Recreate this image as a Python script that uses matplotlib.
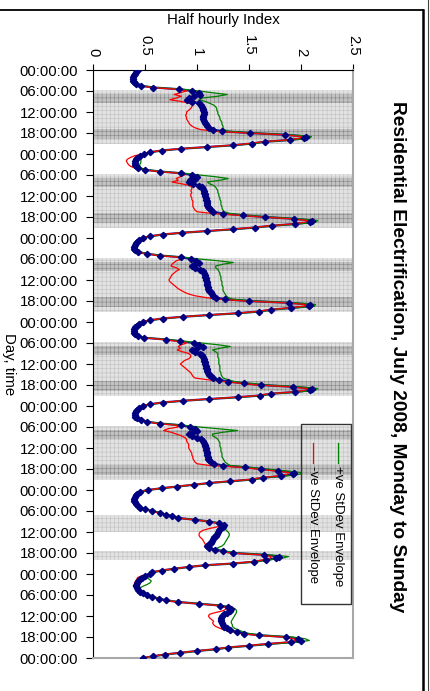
import matplotlib.pyplot as plt
from matplotlib.lines import Line2D
from matplotlib.patches import Rectangle

plt.rcParams['font.family'] = ['Liberation Sans', 'DejaVu Sans']
plt.rcParams['hatch.linewidth'] = 0.4

# half-hourly index, Monday 00:00 to Sunday 23:30 (48 values a day) + Sunday 24:00
mean = [
    # Mon
    0.43, 0.41, 0.40, 0.39, 0.38, 0.38, 0.38, 0.39, 0.41, 0.46, 0.58, 0.83,
    0.95, 1.02, 1.03, 0.97, 0.92, 0.90, 0.95, 1.02, 1.04, 1.05, 1.06, 1.06,
    1.07, 1.07, 1.06, 1.06, 1.06, 1.07, 1.08, 1.09, 1.10, 1.12, 1.15, 1.24,
    1.51, 1.85, 2.05, 2.03, 1.89, 1.65, 1.53, 1.35, 1.10, 0.85, 0.66, 0.55,
    # Tue
    0.49, 0.45, 0.42, 0.41, 0.40, 0.40, 0.40, 0.41, 0.43, 0.50, 0.64, 0.85,
    0.95, 1.00, 0.98, 0.93, 0.92, 0.96, 1.02, 1.05, 1.06, 1.07, 1.07, 1.08,
    1.08, 1.09, 1.09, 1.10, 1.10, 1.10, 1.11, 1.12, 1.13, 1.15, 1.25, 1.44,
    1.65, 1.93, 2.11, 2.09, 1.94, 1.72, 1.56, 1.35, 1.10, 0.86, 0.67, 0.55,
    # Wed
    0.48, 0.44, 0.42, 0.41, 0.40, 0.39, 0.39, 0.40, 0.43, 0.52, 0.64, 0.85,
    0.94, 0.99, 1.02, 0.98, 0.95, 0.98, 1.03, 1.06, 1.07, 1.08, 1.08, 1.09,
    1.09, 1.10, 1.10, 1.10, 1.11, 1.11, 1.12, 1.13, 1.14, 1.15, 1.18, 1.27,
    1.50, 1.88, 2.09, 2.08, 1.90, 1.71, 1.60, 1.39, 1.12, 0.87, 0.67, 0.55,
    # Thu
    0.48, 0.44, 0.42, 0.40, 0.39, 0.39, 0.39, 0.40, 0.43, 0.49, 0.70, 0.84,
    0.97, 1.02, 1.06, 1.00, 0.95, 0.98, 1.03, 1.05, 1.06, 1.07, 1.07, 1.08,
    1.08, 1.09, 1.09, 1.10, 1.10, 1.11, 1.12, 1.13, 1.15, 1.21, 1.30, 1.45,
    1.62, 1.92, 2.11, 2.09, 1.94, 1.71, 1.61, 1.39, 1.12, 0.87, 0.67, 0.55,
    # Fri
    0.48, 0.44, 0.42, 0.41, 0.40, 0.40, 0.40, 0.42, 0.46, 0.52, 0.64, 0.85,
    0.93, 0.98, 1.00, 0.96, 0.92, 0.95, 1.00, 1.04, 1.06, 1.07, 1.08, 1.08,
    1.09, 1.09, 1.10, 1.10, 1.10, 1.11, 1.11, 1.12, 1.13, 1.16, 1.25, 1.46,
    1.62, 1.78, 1.93, 1.92, 1.81, 1.63, 1.53, 1.32, 1.12, 0.97, 0.81, 0.66,
    # Sat
    0.53, 0.45, 0.42, 0.41, 0.40, 0.39, 0.39, 0.40, 0.41, 0.43, 0.45, 0.50,
    0.57, 0.64, 0.70, 0.76, 0.82, 0.98, 1.12, 1.21, 1.26, 1.25, 1.22, 1.21,
    1.20, 1.19, 1.18, 1.16, 1.15, 1.14, 1.13, 1.12, 1.10, 1.12, 1.17, 1.25,
    1.35, 1.64, 1.79, 1.76, 1.66, 1.55, 1.35, 1.08, 0.92, 0.78, 0.66, 0.57,
    # Sun
    0.55, 0.50, 0.47, 0.45, 0.43, 0.42, 0.41, 0.41, 0.42, 0.43, 0.45, 0.48,
    0.52, 0.57, 0.63, 0.70, 0.82, 1.02, 1.22, 1.30, 1.33, 1.32, 1.29, 1.26,
    1.24, 1.23, 1.23, 1.23, 1.24, 1.25, 1.26, 1.29, 1.32, 1.38, 1.45, 1.60,
    1.86, 1.97, 2.00, 1.90, 1.68, 1.50, 1.30, 1.18, 1.00, 0.84, 0.69, 0.58,
    0.48,
]

upper = [
    # Mon
    0.44, 0.42, 0.41, 0.40, 0.39, 0.39, 0.39, 0.40, 0.42, 0.47, 0.60, 0.87,
    1.02, 1.15, 1.29, 1.20, 1.05, 1.02, 1.08, 1.12, 1.16, 1.18, 1.19, 1.19,
    1.20, 1.20, 1.21, 1.22, 1.22, 1.23, 1.24, 1.24, 1.25, 1.25, 1.26, 1.30,
    1.55, 1.88, 2.10, 2.08, 1.91, 1.67, 1.55, 1.37, 1.11, 0.86, 0.67, 0.56,
    # Tue
    0.50, 0.48, 0.46, 0.46, 0.46, 0.46, 0.45, 0.45, 0.46, 0.52, 0.66, 0.88,
    1.02, 1.18, 1.30, 1.22, 1.10, 1.12, 1.16, 1.18, 1.19, 1.20, 1.20, 1.21,
    1.21, 1.22, 1.22, 1.23, 1.23, 1.23, 1.24, 1.24, 1.25, 1.26, 1.32, 1.48,
    1.68, 1.97, 2.16, 2.14, 1.97, 1.74, 1.58, 1.37, 1.11, 0.87, 0.68, 0.56,
    # Wed
    0.49, 0.45, 0.43, 0.42, 0.41, 0.40, 0.40, 0.41, 0.44, 0.53, 0.66, 0.88,
    1.02, 1.20, 1.35, 1.25, 1.18, 1.18, 1.20, 1.21, 1.22, 1.22, 1.23, 1.23,
    1.23, 1.24, 1.24, 1.24, 1.25, 1.25, 1.25, 1.26, 1.27, 1.28, 1.30, 1.34,
    1.55, 1.93, 2.14, 2.13, 1.93, 1.73, 1.62, 1.41, 1.13, 0.88, 0.68, 0.56,
    # Thu
    0.49, 0.45, 0.43, 0.41, 0.40, 0.40, 0.40, 0.41, 0.44, 0.50, 0.72, 0.88,
    1.05, 1.20, 1.32, 1.22, 1.15, 1.18, 1.20, 1.20, 1.20, 1.21, 1.21, 1.21,
    1.21, 1.22, 1.22, 1.22, 1.22, 1.23, 1.23, 1.24, 1.25, 1.30, 1.36, 1.50,
    1.67, 1.97, 2.16, 2.14, 1.97, 1.73, 1.63, 1.41, 1.13, 0.88, 0.68, 0.56,
    # Fri
    0.49, 0.45, 0.43, 0.42, 0.41, 0.41, 0.41, 0.43, 0.47, 0.53, 0.66, 0.88,
    1.02, 1.20, 1.39, 1.25, 1.15, 1.15, 1.18, 1.20, 1.21, 1.22, 1.22, 1.22,
    1.23, 1.23, 1.23, 1.24, 1.24, 1.24, 1.25, 1.26, 1.27, 1.29, 1.32, 1.50,
    1.66, 1.84, 2.00, 1.99, 1.85, 1.66, 1.55, 1.34, 1.13, 0.98, 0.82, 0.67,
    # Sat
    0.54, 0.46, 0.43, 0.42, 0.41, 0.40, 0.40, 0.41, 0.42, 0.44, 0.46, 0.51,
    0.58, 0.65, 0.71, 0.77, 0.83, 0.99, 1.13, 1.22, 1.28, 1.28, 1.27, 1.28,
    1.30, 1.31, 1.31, 1.30, 1.29, 1.28, 1.27, 1.26, 1.24, 1.20, 1.20, 1.28,
    1.38, 1.68, 1.88, 1.82, 1.69, 1.57, 1.37, 1.09, 0.93, 0.79, 0.67, 0.58,
    # Sun
    0.56, 0.53, 0.52, 0.54, 0.56, 0.55, 0.52, 0.48, 0.45, 0.44, 0.46, 0.49,
    0.53, 0.58, 0.64, 0.71, 0.83, 1.03, 1.24, 1.33, 1.37, 1.38, 1.38, 1.37,
    1.36, 1.35, 1.34, 1.33, 1.33, 1.34, 1.34, 1.36, 1.40, 1.44, 1.50, 1.64,
    1.92, 2.04, 2.08, 1.96, 1.71, 1.52, 1.32, 1.19, 1.01, 0.85, 0.70, 0.59,
    0.48,
]

lower = [
    # Mon
    0.42, 0.40, 0.39, 0.38, 0.37, 0.37, 0.37, 0.38, 0.40, 0.45, 0.56, 0.80,
    0.90, 0.84, 0.78, 0.85, 0.80, 0.74, 0.85, 0.93, 0.96, 0.95, 0.94, 0.92,
    0.90, 0.90, 0.89, 0.90, 0.90, 0.91, 0.92, 0.93, 0.95, 0.98, 1.03, 1.17,
    1.48, 1.82, 2.00, 1.99, 1.86, 1.63, 1.51, 1.33, 1.09, 0.84, 0.65, 0.54,
    # Tue
    0.48, 0.40, 0.36, 0.33, 0.32, 0.33, 0.34, 0.36, 0.40, 0.48, 0.62, 0.82,
    0.88, 0.84, 0.80, 0.82, 0.76, 0.85, 0.93, 0.95, 0.95, 0.94, 0.95, 0.94,
    0.94, 0.95, 0.95, 0.96, 0.96, 0.96, 0.96, 0.97, 0.98, 1.00, 1.15, 1.40,
    1.62, 1.90, 2.06, 2.04, 1.91, 1.70, 1.54, 1.33, 1.09, 0.85, 0.66, 0.54,
    # Wed
    0.47, 0.43, 0.41, 0.40, 0.39, 0.38, 0.38, 0.39, 0.42, 0.51, 0.62, 0.82,
    0.86, 0.80, 0.78, 0.76, 0.75, 0.80, 0.83, 0.80, 0.78, 0.76, 0.75, 0.74,
    0.73, 0.74, 0.76, 0.78, 0.80, 0.82, 0.85, 0.88, 0.92, 0.98, 1.08, 1.22,
    1.46, 1.84, 2.04, 2.03, 1.87, 1.69, 1.58, 1.37, 1.11, 0.86, 0.66, 0.54,
    # Thu
    0.47, 0.43, 0.41, 0.39, 0.38, 0.38, 0.38, 0.39, 0.42, 0.48, 0.68, 0.80,
    0.90, 0.85, 0.82, 0.84, 0.81, 0.86, 0.92, 0.94, 0.94, 0.92, 0.88, 0.86,
    0.84, 0.86, 0.88, 0.90, 0.92, 0.94, 0.95, 0.96, 0.98, 1.10, 1.25, 1.42,
    1.58, 1.88, 2.06, 2.04, 1.91, 1.69, 1.59, 1.37, 1.11, 0.86, 0.66, 0.54,
    # Fri
    0.47, 0.43, 0.41, 0.40, 0.39, 0.39, 0.39, 0.41, 0.45, 0.51, 0.62, 0.80,
    0.82, 0.72, 0.68, 0.75, 0.80, 0.85, 0.88, 0.90, 0.90, 0.91, 0.92, 0.92,
    0.92, 0.93, 0.94, 0.95, 0.95, 0.96, 0.96, 0.97, 0.98, 1.00, 1.12, 1.42,
    1.58, 1.74, 1.88, 1.87, 1.78, 1.61, 1.51, 1.30, 1.11, 0.96, 0.80, 0.65,
    # Sat
    0.52, 0.44, 0.41, 0.40, 0.39, 0.38, 0.38, 0.39, 0.40, 0.42, 0.44, 0.49,
    0.56, 0.63, 0.69, 0.75, 0.81, 0.97, 1.11, 1.19, 1.22, 1.20, 1.12, 1.06,
    1.03, 1.02, 1.02, 1.03, 1.05, 1.06, 1.07, 1.08, 1.08, 1.08, 1.13, 1.22,
    1.32, 1.60, 1.72, 1.70, 1.63, 1.53, 1.33, 1.07, 0.91, 0.77, 0.65, 0.56,
    # Sun
    0.54, 0.47, 0.43, 0.42, 0.41, 0.40, 0.40, 0.40, 0.41, 0.42, 0.44, 0.47,
    0.51, 0.56, 0.62, 0.69, 0.81, 1.00, 1.20, 1.27, 1.28, 1.25, 1.18, 1.12,
    1.11, 1.12, 1.14, 1.16, 1.15, 1.16, 1.18, 1.22, 1.26, 1.33, 1.42, 1.57,
    1.82, 1.93, 1.96, 1.86, 1.66, 1.48, 1.28, 1.16, 0.98, 0.83, 0.68, 0.57,
    0.48,
]

# shaded tariff periods, (start hour, end hour) from Monday 00:00
shoulder_bands = [(d * 24 + 5.75, d * 24 + 21.25) for d in range(5)] + [(127.0, 132.0), (137.5, 140.0)]
peak_bands = [(d * 24 + a, d * 24 + b) for d in range(5) for a, b in [(6.75, 9.5), (16.75, 19.75)]]

hour_ticks = list(range(0, 169, 6))
hour_labels = ['%02d:00:00' % (h % 24) for h in hour_ticks]
index_ticks = [0, 0.5, 1, 1.5, 2, 2.5]
index_labels = ['0', '0.5', '1', '1.5', '2', '2.5']

hours = [i * 0.5 for i in range(len(mean))]

fig = plt.figure(figsize=(4.30, 6.91), dpi=100)
ax = fig.add_axes([93 / 430, 1 - 658 / 691, 260 / 430, 588 / 691])

for a, b in shoulder_bands:
    ax.axhspan(a, b, facecolor='#e2e2e2', edgecolor='#c0c0c0', hatch='++++', lw=0, zorder=0)
for a, b in peak_bands:
    ax.axhspan(a, b, facecolor='#c2c2c2', edgecolor='#858585', hatch='++++', lw=0, zorder=0)

ax.plot(mean, hours, color='#1a1a8c', lw=1.6, zorder=2)
ax.plot(upper, hours, color='#008000', lw=0.9, zorder=3)
ax.plot(lower, hours, color='#ff0000', lw=0.9, zorder=4)
ax.plot(mean, hours, ls='none', marker='D', ms=3.2, color='#000080', zorder=5)

ax.set_xlim(0, 2.5)
ax.set_ylim(168, 0)
ax.xaxis.tick_top()
ax.set_xticks(index_ticks)
ax.set_xticklabels(index_labels, rotation=-90, fontsize=10.7)
ax.set_yticks(hour_ticks)
ax.set_yticklabels(hour_labels, fontsize=10.7)
ax.tick_params(axis='x', direction='out', length=4, pad=6)
ax.tick_params(axis='y', direction='out', length=5, pad=6)
ax.spines['left'].set_color('black')
ax.spines['top'].set_color('black')
for s in ['right', 'bottom']:
    ax.spines[s].set_color('#a8a8a8')
    ax.spines[s].set_linewidth(1.5)

fig.text(223 / 430, 1 - 20 / 691, 'Half hourly Index', ha='center', va='center', fontsize=10.8)
fig.text(9 / 430, 1 - 364 / 691, 'Day, time', ha='center', va='center', rotation=-90, fontsize=10.8)
fig.text(397 / 430, 1 - 357 / 691, 'Residential Electrification, July 2008, Monday to Sunday',
         ha='center', va='center', rotation=-90, fontsize=13.8, fontweight='bold')

# legend, drawn turned like the rest of the chart
ax.add_patch(Rectangle((2.0, 101.0), 0.48, 51.5, facecolor='none', edgecolor='#333333', lw=1.0, zorder=6))
ax.plot([2.355, 2.355], [106.5, 112.3], color='#008000', lw=0.9, zorder=6)
ax.plot([2.114, 2.114], [106.5, 112.3], color='#ff0000', lw=0.9, zorder=6)
ax.text(2.355, 113.0, '+ve StDev Envelope', rotation=-90, ha='center', va='top', fontsize=9.5, zorder=6)
ax.text(2.114, 113.0, '-ve StDev Envelope', rotation=-90, ha='center', va='top', fontsize=9.5, zorder=6)

# outer frame of the chart sheet
fig.add_artist(Line2D([0, 423 / 430], [1 - 10 / 691] * 2, color='black', lw=1.3))
fig.add_artist(Line2D([423 / 430] * 2, [0, 1 - 10 / 691], color='black', lw=1.8))
fig.add_artist(Line2D([428 / 430] * 2, [0, 1], color='#444444', lw=0.8))

fig.savefig('out.png', dpi=100)
